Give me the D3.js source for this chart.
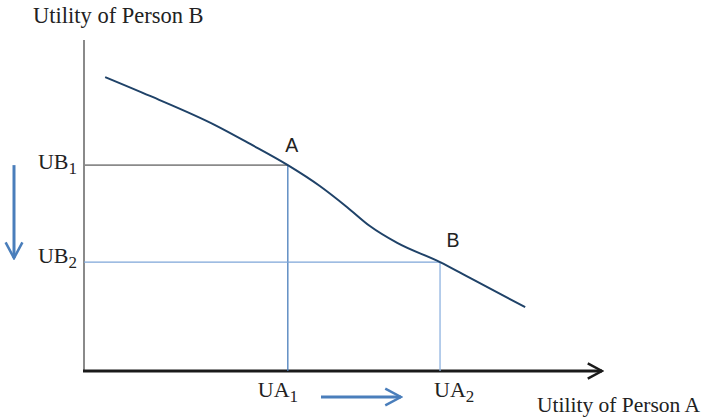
<!DOCTYPE html>
<html>
<head>
<meta charset="utf-8">
<script src="https://cdn.jsdelivr.net/npm/d3@7"></script>
<style>
  body { margin: 0; background: #fff; }
  svg { display: block; }
  .serif { font-family: "Liberation Serif", "Times New Roman", serif; fill: #222; }
  .sans { font-family: "Liberation Sans", Arial, sans-serif; fill: #222; }
</style>
</head>
<body>
<div id="chart"></div>
<script>
// Utility possibility frontier, values in arbitrary utility units (0-100)
const frontierUA = [4.1, 12.8, 25.4, 32.2, 39.5, 45.7, 51.0, 55.4, 60.7, 69.0, 74.8, 85.5];
const frontierUB = [88.8, 83.1, 74.3, 68.6, 62.2, 55.9, 49.5, 43.8, 38.7, 32.9, 28.1, 19.3];

const pointNames = ["A", "B"];
const pointUA = [39.5, 69.0];
const pointUB = [62.2, 32.9];
const uaLabels = ["UA", "UA"];
const ubLabels = ["UB", "UB"];
const subscripts = ["1", "2"];

const width = 709, height = 418;
const margin = {top: 40, right: 109, bottom: 47, left: 84};

const svg = d3.select("#chart").append("svg")
    .attr("width", width)
    .attr("height", height);

const defs = svg.append("defs");
function marker(id, color, size, sw) {
    defs.append("marker")
        .attr("id", id)
        .attr("viewBox", "0 0 10 10")
        .attr("refX", 9).attr("refY", 5)
        .attr("markerUnits", "userSpaceOnUse")
        .attr("markerWidth", size).attr("markerHeight", size)
        .attr("orient", "auto")
        .append("path")
        .attr("d", "M1.5,1 L9,5 L1.5,9")
        .attr("fill", "none")
        .attr("stroke", color)
        .attr("stroke-width", sw);
}
marker("head-black", "#1a1a1a", 19, 1.3);
marker("head-blue", "#4a7ebb", 21, 1.2);

const x = d3.scaleLinear().domain([0, 100]).range([margin.left, width - margin.right]);
const y = d3.scaleLinear().domain([0, 100]).range([height - margin.bottom, margin.top]);

// y axis (plain grey line)
svg.append("line")
    .attr("x1", x(0)).attr("x2", x(0))
    .attr("y1", y(100)).attr("y2", y(0))
    .attr("stroke", "#8a8a8a").attr("stroke-width", 2);

// x axis (black with arrow)
svg.append("line")
    .attr("x1", x(0) - 1).attr("x2", x(100) + 2)
    .attr("y1", y(0)).attr("y2", y(0))
    .attr("stroke", "#1a1a1a").attr("stroke-width", 3)
    .attr("marker-end", "url(#head-black)");

// guide lines
const hColors = ["#8a8a8a", "#7ea6d8"];
const vColors = ["#4a7ebb", "#8fb3e0"];
pointNames.forEach((n, i) => {
    svg.append("line")
        .attr("x1", x(0)).attr("x2", x(pointUA[i]))
        .attr("y1", y(pointUB[i])).attr("y2", y(pointUB[i]))
        .attr("stroke", hColors[i]).attr("stroke-width", i === 0 ? 1.6 : 1.3);
    svg.append("line")
        .attr("x1", x(pointUA[i])).attr("x2", x(pointUA[i]))
        .attr("y1", y(pointUB[i])).attr("y2", y(0))
        .attr("stroke", vColors[i]).attr("stroke-width", 1.3);
});

// frontier curve
const pts = frontierUA.map((d, i) => [d, frontierUB[i]]);
svg.append("path")
    .datum(pts)
    .attr("d", d3.line().x(d => x(d[0])).y(d => y(d[1])).curve(d3.curveMonotoneX))
    .attr("fill", "none")
    .attr("stroke", "#1f4268")
    .attr("stroke-width", 2);

// point labels
const labelDx = [4, 13], labelDy = [-13, -15];
pointNames.forEach((n, i) => {
    svg.append("text")
        .attr("class", "sans")
        .attr("x", x(pointUA[i]) + labelDx[i])
        .attr("y", y(pointUB[i]) + labelDy[i])
        .attr("text-anchor", "middle")
        .attr("font-size", 19.5)
        .text(n);
});

// axis labels with subscripts
function subLabel(px, py, base, sub, anchor) {
    const t = svg.append("text")
        .attr("class", "serif")
        .attr("x", px).attr("y", py)
        .attr("font-size", 22)
        .attr("text-anchor", anchor);
    t.append("tspan").text(base);
    t.append("tspan").attr("dy", 5).attr("font-size", 17).text(sub);
}
const uaDx = [-30, -6];
pointNames.forEach((n, i) => {
    subLabel(x(0) - 7, y(pointUB[i]) + (i === 0 ? 4 : 1), ubLabels[i], subscripts[i], "end");
    subLabel(x(pointUA[i]) + uaDx[i], y(0) + 26, uaLabels[i], subscripts[i], "start");
});

svg.append("text")
    .attr("class", "serif")
    .attr("x", 33).attr("y", 23)
    .attr("font-size", 22.5)
    .text("Utility of Person B");

svg.append("text")
    .attr("class", "serif")
    .attr("x", 537).attr("y", 412)
    .attr("font-size", 21.5)
    .text("Utility of Person A");

// direction arrows
svg.append("line")
    .attr("x1", 14).attr("x2", 14)
    .attr("y1", y(pointUB[0])).attr("y2", y(pointUB[1]) - 4)
    .attr("stroke", "#4a7ebb").attr("stroke-width", 3)
    .attr("marker-end", "url(#head-blue)");

svg.append("line")
    .attr("x1", 321).attr("x2", 401)
    .attr("y1", 397).attr("y2", 397)
    .attr("stroke", "#4a7ebb").attr("stroke-width", 3)
    .attr("marker-end", "url(#head-blue)");
</script>
</body>
</html>
